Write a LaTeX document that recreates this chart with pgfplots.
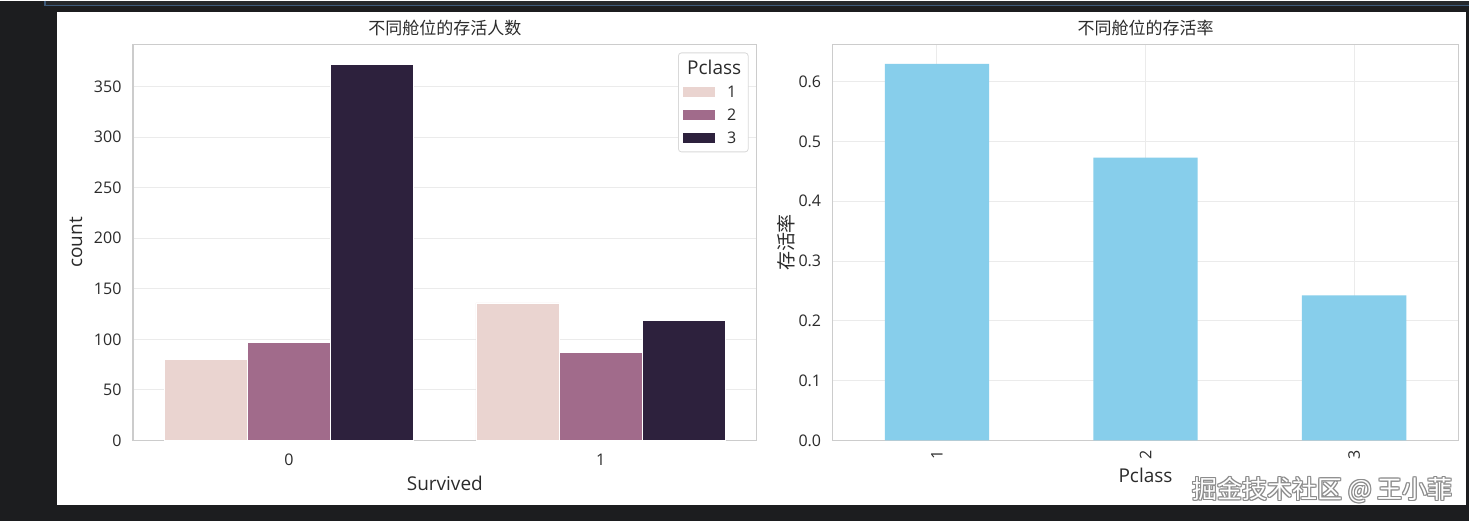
\documentclass[border=0pt]{standalone}
\usepackage{fontspec}
\setmainfont{Open Sans}
\newfontfamily\cjk{Noto Sans CJK SC}
\usepackage{pgfplots}
\pgfplotsset{compat=1.18}
\definecolor{bg}{HTML}{1C1D1F}
\definecolor{topbar}{HTML}{26292C}
\definecolor{topline}{HTML}{3D5A7A}
\definecolor{cA}{HTML}{EAD4D0}
\definecolor{cB}{HTML}{A16B8B}
\definecolor{cC}{HTML}{2D213D}
\definecolor{sky}{HTML}{87CEEB}
\definecolor{framec}{HTML}{CCCCCC}
\definecolor{gridc}{HTML}{EBEBEB}
\definecolor{txt}{HTML}{2B2B2B}
\definecolor{legframe}{HTML}{D9D9D9}

\pgfplotsset{
  mystyle/.style={
    scale only axis,
    anchor=south west,
    axis line style={framec, line width=1.5pt},
    major tick length=0pt,
    grid style={gridc, line width=1pt},
    tick label style={font=\fontsize{16}{19}\selectfont, text=txt},
    label style={font=\fontsize{19}{23}\selectfont, text=txt},
    title style={font=\cjk\fontsize{17}{20}\selectfont, text=txt, at={(axis description cs:0.5,1)}, anchor=south, yshift=-1pt},
    /pgf/number format/assume math mode=true,
    xlabel style={at={(axis description cs:0.5,0)}, anchor=center},
    ylabel style={at={(axis description cs:0,0.5)}, anchor=center},
    yticklabel style={xshift=-8pt},
  }
}

\begin{document}
\begin{tikzpicture}
\fill[bg] (0pt,0pt) rectangle (1470pt,521pt);
\fill[topbar] (45pt,516pt) rectangle (1470pt,521pt);
\draw[topline, line width=1.2pt] (45pt,521pt) -- (45pt,516pt) -- (1470pt,516pt);
\fill[white] (57pt,16pt) rectangle (1467pt,510pt);

% Left: counts
\begin{axis}[mystyle,
  at={(133pt,81pt)}, width=624pt, height=396pt,
  xmin=-0.5, xmax=1.5, ymin=0, ymax=391.5,
  xtick={0,1}, ytick={0,50,100,150,200,250,300,350},
  xticklabel style={yshift=-10pt},
  ymajorgrids,
  xlabel={Survived}, ylabel={count},
  xlabel style={yshift=-43pt},
  ylabel style={yshift=57pt},
  title={不同舱位的存活人数},
  legend style={at={(rel axis cs:0.987,0.98)}, anchor=north east,
    draw=legframe, line width=0.8pt, rounded corners=3pt, fill=white,
    font=\fontsize{16}{19}\selectfont, text=txt,
    inner xsep=5pt, inner ysep=5pt, row sep=6pt,
    /tikz/every odd column/.append style={column sep=10pt}},
  legend cell align=left,
]
\addlegendimage{empty legend}
\addlegendentry{\hspace{-40pt}{\fontsize{19}{22}\selectfont Pclass}}
\addplot[ybar, bar width=0.2667, bar shift=0pt, fill=cA, draw=white, line width=0.8pt,
  legend image code/.code={\fill[cA, sharp corners] (0pt,-4.5pt) rectangle (31pt,4.5pt);}]
  coordinates {(-0.2667,80) (0.7333,136)};
\addlegendentry{1}
\addplot[ybar, bar width=0.2667, bar shift=0pt, fill=cB, draw=white, line width=0.8pt,
  legend image code/.code={\fill[cB, sharp corners] (0pt,-4.5pt) rectangle (31pt,4.5pt);}]
  coordinates {(0,97) (1,87)};
\addlegendentry{2}
\addplot[ybar, bar width=0.2667, bar shift=0pt, fill=cC, draw=white, line width=0.8pt,
  legend image code/.code={\fill[cC, sharp corners] (0pt,-4.5pt) rectangle (31pt,4.5pt);}]
  coordinates {(0.2667,372) (1.2667,119)};
\addlegendentry{3}
\end{axis}

% Right: survival rate
\begin{axis}[mystyle,
  at={(833pt,81pt)}, width=626pt, height=396pt,
  xmin=-0.5, xmax=2.5, ymin=0, ymax=0.662,
  xtick={0,1,2}, xticklabels={1,2,3},
  xticklabel style={rotate=90, anchor=east, xshift=-6pt},
  ytick={0,0.1,0.2,0.3,0.4,0.5,0.6},
  yticklabel style={/pgf/number format/.cd, fixed, fixed zerofill, precision=1},
  xmajorgrids, ymajorgrids,
  xlabel={Pclass}, ylabel={\cjk 存活率},
  xlabel style={yshift=-35pt},
  ylabel style={yshift=46pt},
  title={不同舱位的存活率},
]
\addplot[ybar, bar width=0.5, bar shift=0pt, fill=sky, draw=none]
  coordinates {(0,0.6296) (1,0.4728) (2,0.2424)};
\end{axis}

% watermark
\foreach \dx/\dy in {1/0,-1/0,0/1,0/-1,1/1,-1/-1,1/-1,-1/1}{
  \node[text=black!45, font=\cjk\fontsize{25}{28}\selectfont, anchor=center] at (1323pt+\dx pt,31pt+\dy pt) {掘金技术社区 @ 王小菲};
}
\node[text=white, font=\cjk\fontsize{25}{28}\selectfont, anchor=center] at (1323pt,31pt) {掘金技术社区 @ 王小菲};
\end{tikzpicture}
\end{document}
